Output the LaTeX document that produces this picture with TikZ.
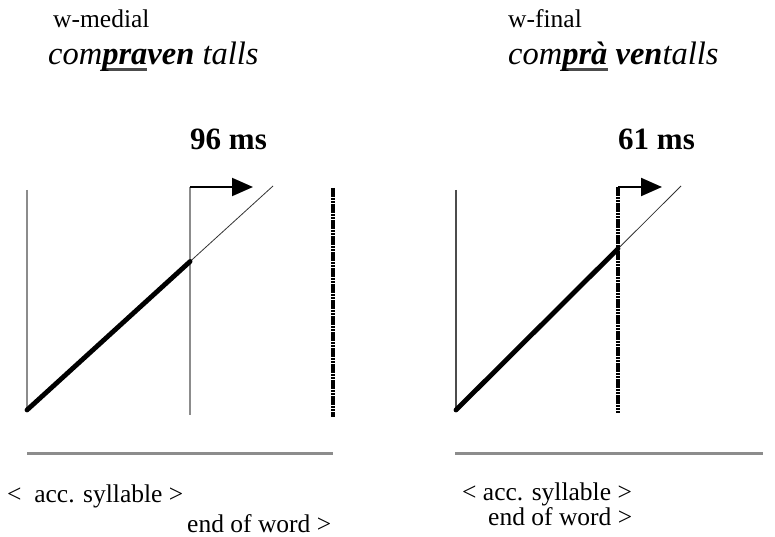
\documentclass[tikz,border=0pt]{standalone}
\usepackage{fontspec}
\setmainfont{Liberation Serif}
\usetikzlibrary{arrows.meta,calc}
\definecolor{rulegray}{HTML}{8C8C8C}
\newcommand{\thickul}[1]{\setbox0\hbox{#1}\rlap{\raisebox{-6pt}{\color{black!70}\rule{\wd0}{2.8pt}}}\box0\relax}

\begin{document}
\begin{tikzpicture}[x=1pt,y=-1pt,
  lab/.style={inner sep=0pt, anchor=base west, font=\fontsize{25.5}{28}\selectfont},
  word/.style={inner sep=0pt, anchor=base west, font=\fontsize{32.5}{34}\selectfont\itshape},
  msec/.style={inner sep=0pt, anchor=base west, font=\fontsize{31}{32}\selectfont\bfseries},
  grayline/.style={rulegray, line width=1.8pt},
  darkline/.style={black!70, line width=1.4pt},
  thinline/.style={black!80, line width=0.8pt},
  thickline/.style={black, line width=4.8pt, line cap=round},
  dotline/.style={black, line width=3.2pt, dash pattern=on 2.6pt off 0.6pt},
  axisline/.style={rulegray, line width=3pt},
  delayarrow/.style={black, line width=2pt, -{Triangle[length=21pt,width=18pt]}}]
\useasboundingbox (0,0) rectangle (775,537);

% left panel: word-medial
\node[lab] (medial) at (53,28) {w-medial};
\node[word] (wordA) at (48,65) {com\thickul{\bfseries pra}{\bfseries ven} talls};
\node[msec] (msA) at (190,150) {96 ms};
\coordinate (a0) at (27,410);
\coordinate (a1) at (273,186);
\coordinate (ax) at ($(a0)!0.663!(a1)$);
\coordinate (atop) at (27,190);
\coordinate (mtop) at (190,187);
\coordinate (mbot) at (190,415);
\coordinate (marr) at (253,187);
\coordinate (dtop) at (333,188);
\coordinate (dbot) at (333,417);
\draw[grayline] (atop) -- (a0);
\draw[grayline] (mtop) -- (mbot);
\draw[thinline] (a0) -- (a1);
\draw[thickline] (a0) -- (ax);
\draw[dotline] (dtop) -- (dbot);
\draw[delayarrow] (mtop) -- (marr);
\coordinate (la) at (27,453);
\coordinate (lb) at (333,453);
\draw[axisline] (la) -- (lb);
\node[lab] (accA) at (7,502) {<\ \ acc. syllable >};
\node[lab] (endA) at (187,532) {end of word >};

% right panel: word-final
\node[lab] (final) at (508,28) {w-final};
\node[word] (wordB) at (508,65) {com\thickul{\bfseries prà} {\bfseries ven}talls};
\node[msec] (msB) at (618,150) {61 ms};
\coordinate (b0) at (456,410);
\coordinate (b1) at (681,186);
\coordinate (bx) at ($(b0)!0.72!(b1)$);
\coordinate (btop) at (456,190);
\coordinate (ntop) at (618,187);
\coordinate (nbot) at (618,413);
\coordinate (narr) at (662,187);
\draw[darkline] (btop) -- (b0);
\draw[thinline] (b0) -- (b1);
\draw[thickline] (b0) -- (bx);
\draw[dotline] (ntop) -- (nbot);
\draw[delayarrow] (ntop) -- (narr);
\coordinate (ra) at (455,453);
\coordinate (rb) at (763,453);
\draw[axisline] (ra) -- (rb);
\node[lab] (accB) at (462,500) {< acc. syllable >};
\node[lab] (endB) at (488,525) {end of word >};
\end{tikzpicture}
\end{document}
